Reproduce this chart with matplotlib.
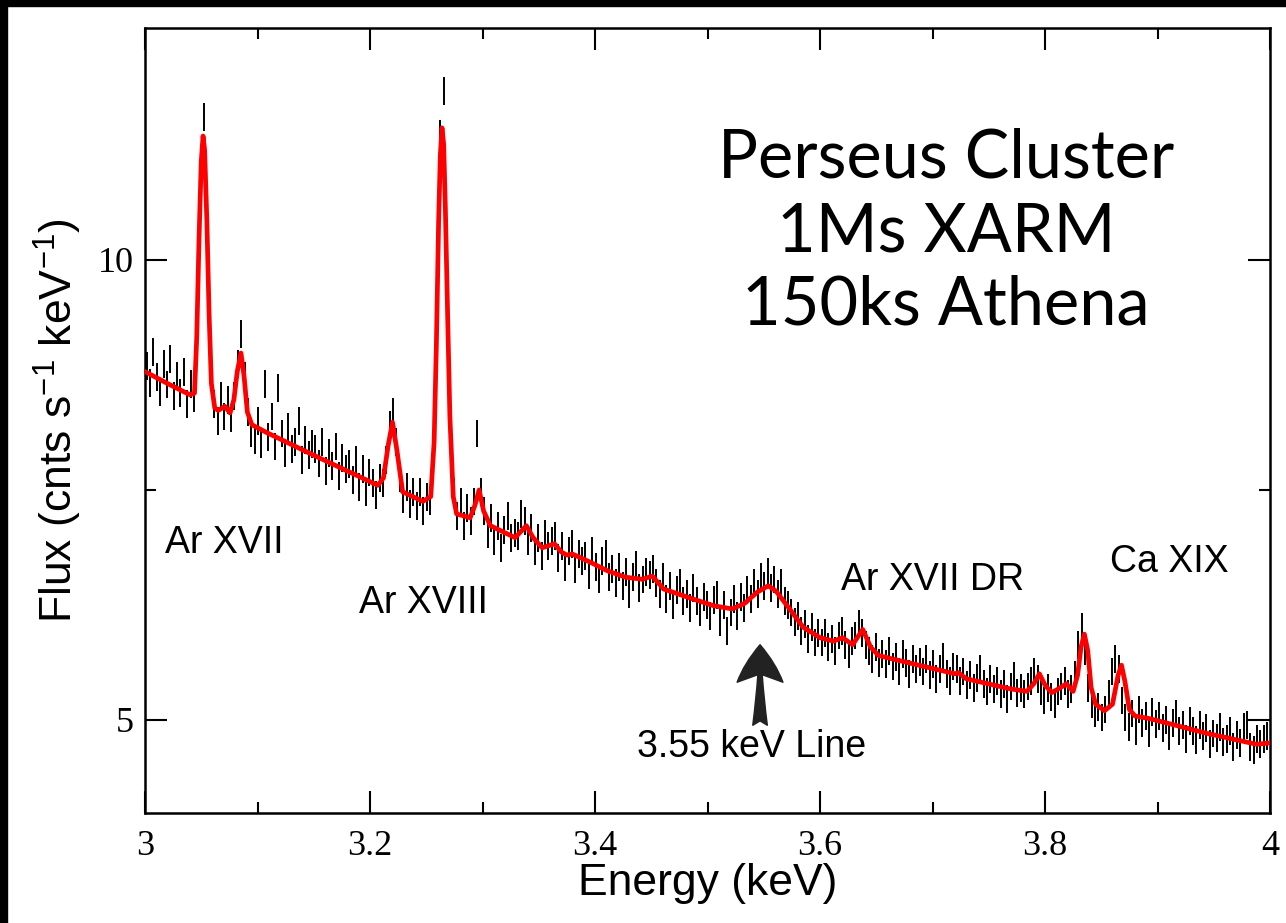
import numpy as np
import matplotlib
matplotlib.use("Agg")
import matplotlib.pyplot as plt
from matplotlib.patches import Rectangle

# binned spectrum: 3 keV -> 4 keV, 3 eV bins
bin_start = 3.0015
bin_width = 0.003
flux = [
    8.52, 8.31, 8.70, 8.38, 8.20, 8.55, 8.29, 8.61, 8.15, 8.40,
    8.18, 8.45, 8.05, 8.30, 8.12, 8.90, 11.3, 12.4, 11.0, 8.70,
    8.05, 7.85, 8.15, 7.90, 8.10, 7.88, 8.15, 8.55, 8.95, 8.40,
    7.95, 7.70, 7.62, 7.85, 7.58, 8.30, 7.66, 7.90, 7.55, 8.25,
    7.70, 7.48, 7.78, 7.52, 7.60, 7.85, 7.40, 7.62, 7.45, 7.58,
    7.52, 7.36, 7.60, 7.28, 7.48, 7.33, 7.55, 7.22, 7.42, 7.30,
    7.35, 7.18, 7.40, 7.10, 7.30, 7.05, 7.26, 7.15, 7.02, 7.20,
    7.15, 7.40, 7.80, 7.95, 7.60, 7.20, 6.98, 7.10, 6.92, 7.05,
    6.90, 7.05, 6.85, 7.00, 6.95, 7.60, 9.60, 12.1, 12.9, 10.4,
    8.00, 7.05, 6.80, 6.95, 6.70, 6.88, 6.75, 6.95, 7.70, 7.05,
    6.85, 6.62, 6.78, 6.55, 6.70, 6.48, 6.66, 6.80, 6.58, 6.63,
    6.60, 6.82, 6.75, 6.55, 6.68, 6.45, 6.58, 6.40, 6.62, 6.50,
    6.55, 6.60, 6.38, 6.50, 6.30, 6.45, 6.52, 6.28, 6.42, 6.35,
    6.40, 6.22, 6.45, 6.30, 6.18, 6.35, 6.42, 6.20, 6.28, 6.15,
    6.30, 6.12, 6.25, 6.05, 6.20, 6.32, 6.10, 6.18, 6.25, 6.22,
    6.28, 6.15, 6.05, 6.20, 6.00, 6.12, 5.95, 6.08, 6.15, 5.98,
    6.05, 5.92, 6.10, 5.98, 5.88, 6.02, 5.95, 5.85, 5.99, 6.04,
    5.80, 5.95, 5.72, 5.88, 6.00, 5.85, 6.02, 5.92, 6.08, 6.00,
    6.15, 6.05, 6.20, 6.12, 6.25, 6.10, 6.18, 6.05, 6.15, 5.98,
    5.95, 5.88, 5.80, 5.85, 5.72, 5.78, 5.65, 5.75, 5.62, 5.70,
    5.62, 5.70, 5.58, 5.65, 5.55, 5.68, 5.72, 5.60, 5.52, 5.63,
    5.68, 5.78, 5.70, 5.60, 5.55, 5.48, 5.58, 5.45, 5.52, 5.44,
    5.55, 5.42, 5.50, 5.38, 5.52, 5.45, 5.36, 5.48, 5.40, 5.46,
    5.38, 5.48, 5.35, 5.44, 5.32, 5.40, 5.50, 5.36, 5.30, 5.42,
    5.40, 5.30, 5.38, 5.27, 5.35, 5.25, 5.33, 5.40, 5.28, 5.22,
    5.32, 5.24, 5.30, 5.20, 5.28, 5.16, 5.26, 5.34, 5.21, 5.25,
    5.20, 5.26, 5.30, 5.38, 5.32, 5.22, 5.15, 5.25, 5.18, 5.12,
    5.22, 5.26, 5.30, 5.20, 5.24, 5.35, 5.60, 5.75, 5.55, 5.25,
    5.12, 5.05, 5.10, 5.02, 5.08, 5.20, 5.38, 5.48, 5.40, 5.15,
    5.02, 4.95, 5.05, 4.92, 5.08, 4.98, 5.03, 4.90, 5.06, 4.97,
    5.03, 4.94, 5.00, 4.88, 4.98, 5.05, 4.92, 4.96, 4.86, 4.99,
    4.92, 4.85, 4.96, 4.88, 4.94, 4.82, 4.90, 4.87, 4.95, 4.84,
    4.86, 4.92, 4.80, 4.89, 4.83, 4.95, 4.96, 4.80, 4.78, 4.86,
    4.82, 4.86, 4.88,
]
rel_err = 0.021

# best-fit model curve
model_e = [
    3.000, 3.020, 3.040, 3.044, 3.046, 3.048, 3.050, 3.0516, 3.053, 3.055,
    3.057, 3.059, 3.062, 3.065, 3.071, 3.0756, 3.079, 3.082, 3.0853, 3.088,
    3.091, 3.095, 3.108, 3.150, 3.207, 3.212, 3.216, 3.220, 3.224, 3.229,
    3.247, 3.254, 3.257, 3.259, 3.261, 3.2625, 3.264, 3.2655, 3.267, 3.269,
    3.271, 3.274, 3.277, 3.289, 3.293, 3.297, 3.301, 3.307, 3.329, 3.339,
    3.345, 3.353, 3.364, 3.370, 3.375, 3.380, 3.396, 3.411, 3.427, 3.442,
    3.451, 3.461, 3.487, 3.505, 3.522, 3.533, 3.544, 3.554, 3.561, 3.573,
    3.585, 3.600, 3.612, 3.620, 3.629, 3.638, 3.645, 3.652, 3.665, 3.720,
    3.723, 3.730, 3.769, 3.784, 3.790, 3.795, 3.800, 3.806, 3.812, 3.819,
    3.825, 3.829, 3.832, 3.835, 3.838, 3.841, 3.845, 3.853, 3.860, 3.865,
    3.868, 3.871, 3.875, 3.880, 3.893, 3.944, 3.988, 4.000,
]
model_f = [
    8.45, 8.30, 8.16, 8.18, 8.90, 10.3, 11.6, 12.05, 11.8, 10.6,
    9.20, 8.30, 8.00, 7.97, 8.02, 7.94, 8.10, 8.45, 8.69, 8.40,
    7.95, 7.80, 7.71, 7.45, 7.12, 7.20, 7.55, 7.83, 7.50, 7.05,
    6.95, 7.00, 7.60, 8.80, 10.6, 11.7, 12.2, 11.9, 10.8, 9.20,
    7.90, 7.00, 6.82, 6.78, 6.90, 7.07, 6.85, 6.70, 6.58, 6.70,
    6.58, 6.48, 6.52, 6.44, 6.41, 6.42, 6.34, 6.26, 6.20, 6.18,
    6.21, 6.09, 6.00, 5.94, 5.91, 5.96, 6.06, 6.12, 6.07, 5.91,
    5.75, 5.66, 5.63, 5.66, 5.60, 5.73, 5.58, 5.51, 5.48, 5.36,
    5.37, 5.32, 5.24, 5.22, 5.28, 5.36, 5.27, 5.21, 5.24, 5.28,
    5.22, 5.35, 5.58, 5.69, 5.55, 5.25, 5.12, 5.07, 5.12, 5.35,
    5.43, 5.30, 5.08, 5.03, 5.01, 4.90, 4.82, 4.83,
]

x_ticks = [3.0, 3.2, 3.4, 3.6, 3.8, 4.0]
x_tick_labels = ["3", "3.2", "3.4", "3.6", "3.8", "4"]
y_ticks = [5, 10]
y_tick_labels = ["5", "10"]

line_labels = ["Ar XVII", "Ar XVIII", "Ar XVII DR", "Ca XIX"]
line_label_x = [3.018, 3.190, 3.619, 3.858]
line_label_y = [6.53, 5.965, 6.17, 6.34]

plt.rcParams["mathtext.fontset"] = "custom"
plt.rcParams["mathtext.rm"] = "Liberation Sans"

fig = plt.figure(figsize=(12.86, 9.23), dpi=100)
ax = fig.add_axes([145 / 1286, 110 / 923, 1125 / 1286, 785 / 923])

energy = bin_start + bin_width * np.arange(len(flux))
flux = np.array(flux)
ax.vlines(energy, flux * (1 - rel_err), flux * (1 + rel_err),
          color="black", lw=1.4, zorder=2)
ax.plot(model_e, model_f, color="#ff0000", lw=3.4, zorder=3,
        solid_joinstyle="round")

ax.set_yscale("log")
ax.set_xlim(3.0, 4.0)
ax.set_ylim(4.346, 14.18)

ax.set_xticks(x_ticks)
ax.set_xticklabels(x_tick_labels)
ax.set_xticks([3.1, 3.3, 3.5, 3.7, 3.9], minor=True)
ax.set_yticks(y_ticks)
ax.set_yticklabels(y_tick_labels)
ax.yaxis.set_minor_locator(matplotlib.ticker.FixedLocator([7.071]))
ax.yaxis.set_minor_formatter(matplotlib.ticker.NullFormatter())

ax.tick_params(which="both", direction="in", top=True, right=True, width=1.5)
ax.tick_params(which="major", length=16)
ax.tick_params(which="minor", length=8)
ax.tick_params(axis="x", pad=12)
ax.tick_params(axis="y", pad=8)
for lab in ax.get_xticklabels() + ax.get_yticklabels():
    lab.set_fontfamily("Liberation Serif")
    lab.set_fontsize(26)
for sp in ax.spines.values():
    sp.set_linewidth(1.8)

ax.set_xlabel("Energy (keV)", family="Liberation Sans", fontsize=32, labelpad=0)
ax.set_ylabel(r"Flux (cnts s$^{\mathregular{-1}}$ keV$^{\mathregular{-1}}$)",
              family="Liberation Sans", fontsize=32, labelpad=10)

for name, lx, ly in zip(line_labels, line_label_x, line_label_y):
    ax.text(lx, ly, name, family="Liberation Sans", fontsize=27,
            ha="left", va="center")

# arrow marking the 3.55 keV feature
ax.annotate("", xy=(3.5467, 5.60), xytext=(3.5467, 4.96),
            arrowprops=dict(arrowstyle="fancy,head_length=0.9,head_width=1.1,tail_width=0.35",
                            color="#222222", mutation_scale=30, shrinkA=0, shrinkB=0))
ax.text(3.5396, 4.80, "3.55 keV Line", family="Liberation Sans", fontsize=27,
        ha="center", va="center")

for txt, ty in zip(["Perseus Cluster", "1Ms XARM", "150ks Athena"], [178, 251, 324]):
    fig.text(946 / 1286, 1 - ty / 923, txt, family="Lato",
             fontsize=48, ha="center", va="baseline")

fig.patches.append(Rectangle((0, 1 - 6 / 923), 1, 6 / 923, transform=fig.transFigure,
                             color="black", zorder=10))
fig.patches.append(Rectangle((0, 0), 7 / 1286, 1, transform=fig.transFigure,
                             color="black", zorder=10))

fig.savefig("out.png", dpi=100)
